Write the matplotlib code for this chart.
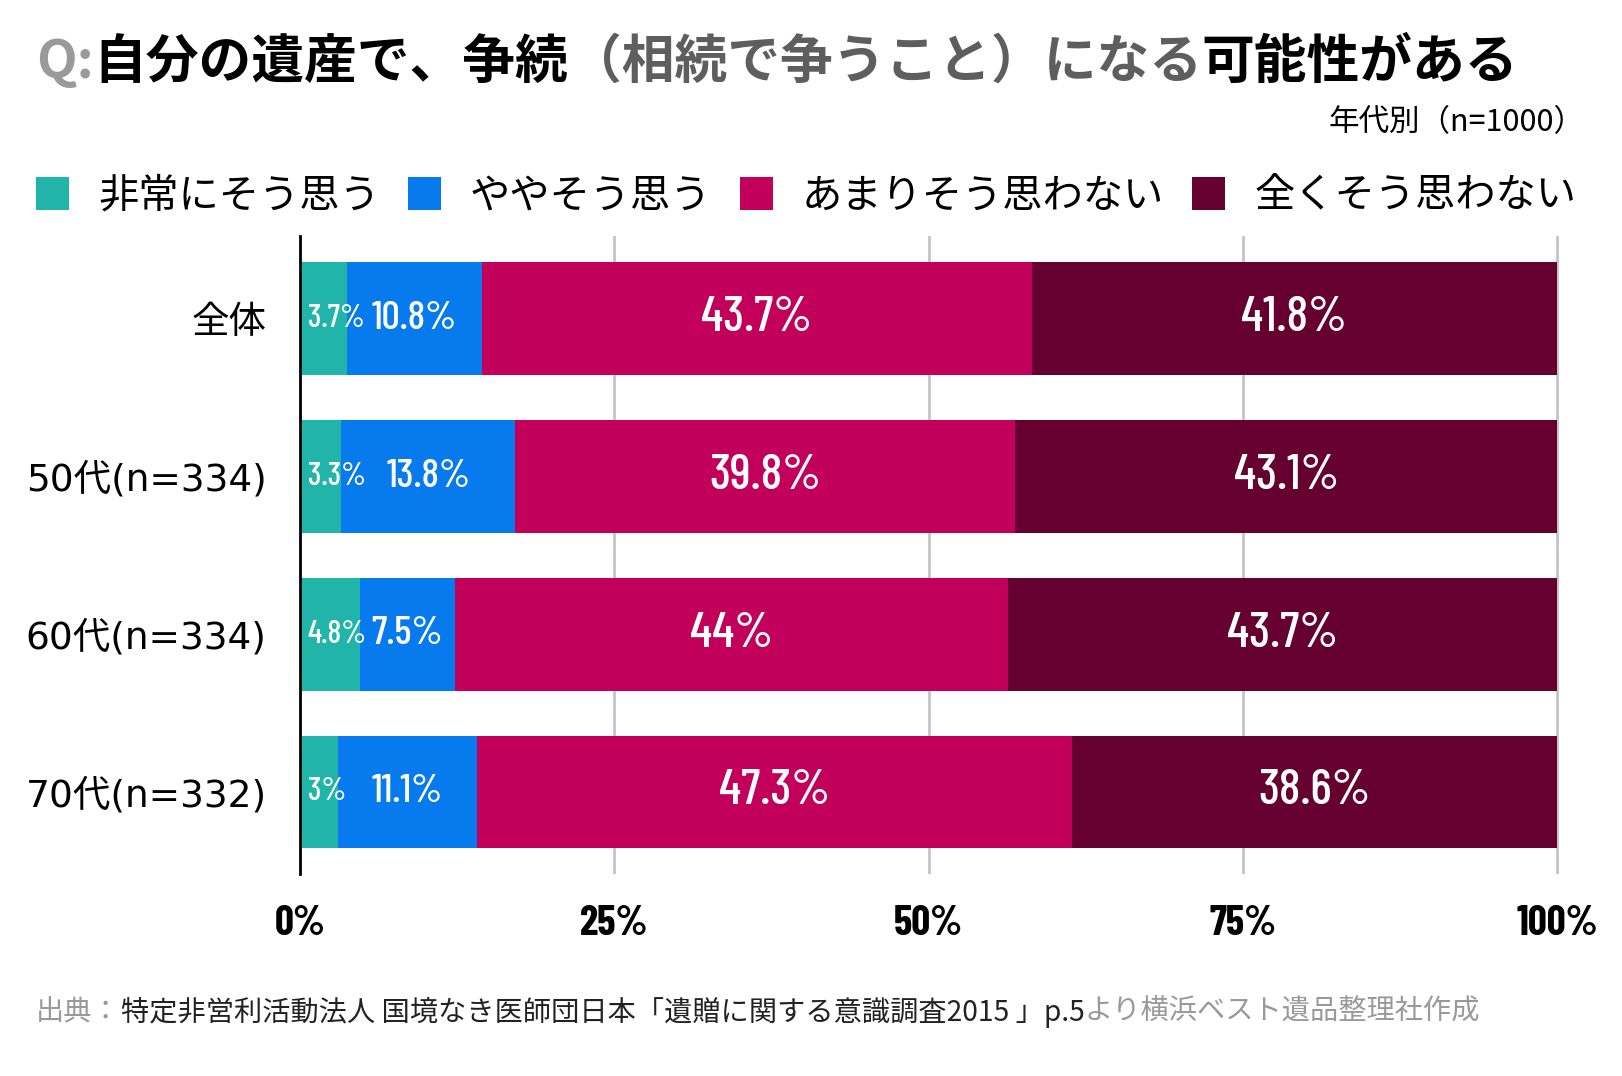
import numpy as np
import matplotlib
matplotlib.use("Agg")
import matplotlib.pyplot as plt

plt.rcParams['font.family'] = ['Noto Sans CJK JP', 'DejaVu Sans']

# data
groups = ["全体", "50代(n=334)", "60代(n=334)", "70代(n=332)"]
series = ["非常にそう思う", "ややそう思う", "あまりそう思わない", "全くそう思わない"]
very = [3.7, 3.3, 4.8, 3.0]
somewhat = [10.8, 13.8, 7.5, 11.1]
not_much = [43.7, 39.8, 44.0, 47.3]
not_at_all = [41.8, 43.1, 43.7, 38.6]
colors = ["#21b5a9", "#077bee", "#c2005c", "#650030"]
xticks = [0, 25, 50, 75, 100]

num_font = ["Barlow Condensed", "DejaVu Sans"]

fig = plt.figure(figsize=(16.22, 10.76), dpi=100)
ax = fig.add_axes([300/1622, 1-874/1076, 1259/1622, 638/1076])

values = [very, somewhat, not_much, not_at_all]
y = np.arange(len(groups))
left = np.zeros(len(groups))
bars = []
for i, vals in enumerate(values):
    b = ax.barh(y, vals, left=left, height=0.715, color=colors[i], label=series[i], zorder=3)
    bars.append(b)
    for j, v in enumerate(vals):
        lab = f"{v:g}%"
        if i == 0:
            ax.text(left[j] + 0.6, y[j], lab, ha="left", va="center", color="white",
                    fontsize=23, family=num_font, fontweight=500, zorder=5)
        elif i == 1:
            ax.text(left[j] + v/2, y[j], lab, ha="center", va="center", color="white",
                    fontsize=29, family=num_font, fontweight=500, zorder=5)
        else:
            ax.text(left[j] + v/2, y[j], lab, ha="center", va="center", color="white",
                    fontsize=36, family=num_font, fontweight=500, zorder=5)
    left += np.array(vals)

ax.set_ylim(3.52, -0.525)
ax.set_xlim(0, 100.15)
ax.set_yticks(y)
ax.set_yticklabels(groups, fontsize=27, family=["DejaVu Sans", "Noto Sans CJK JP"])
ax.set_xticks(xticks)
ax.set_xticklabels([f"{t}%" for t in xticks], fontsize=30, fontweight="bold", family=num_font)
ax.tick_params(axis="both", length=0)
ax.tick_params(axis="y", pad=24)
ax.tick_params(axis="x", pad=22)
ax.xaxis.grid(True, color="#c4c4c4", linewidth=2, zorder=0)
ax.set_axisbelow(True)
for s in ["top", "right", "bottom"]:
    ax.spines[s].set_visible(False)
ax.spines["left"].set_linewidth(2)
ax.spines["left"].set_color("black")
ax.spines["left"].set_zorder(4)

fig.legend(handles=bars, labels=series, loc="center left",
           bbox_to_anchor=(36/1622, 1-196/1076), ncol=4, frameon=False,
           handlelength=0.82, handleheight=0.88, handletextpad=0.72,
           columnspacing=0.70, borderaxespad=0, borderpad=0, fontsize=29)

renderer = fig.canvas.get_renderer()


def draw_pieces(x, yy, pieces, **kw):
    for s, c in pieces:
        t = fig.text(x, yy, s, color=c, va="center", **kw)
        bb = t.get_window_extent(renderer)
        x += bb.width / fig.bbox.width


title = [("Q:", "#9a9a9a"), ("自分の遺産で、争続", "black"),
         ("（相続で争うこと）になる", "#5e5e5e"), ("可能性がある", "black")]
draw_pieces(36/1622, 1-62/1076, title, fontsize=38, fontweight="bold")

fig.text(1585/1622, 1-123/1076, "年代別（n=1000）", ha="right", va="center", fontsize=22)

source = [("出典：", "#999999"),
          ("特定非営利活動法人 国境なき医師団日本「遺贈に関する意識調査2015 」p.5", "#222222"),
          ("より横浜ベスト遺品整理社作成", "#999999")]
draw_pieces(36/1622, 1-1012/1076, source, fontsize=20.3)

fig.savefig("out.png", dpi=100)
